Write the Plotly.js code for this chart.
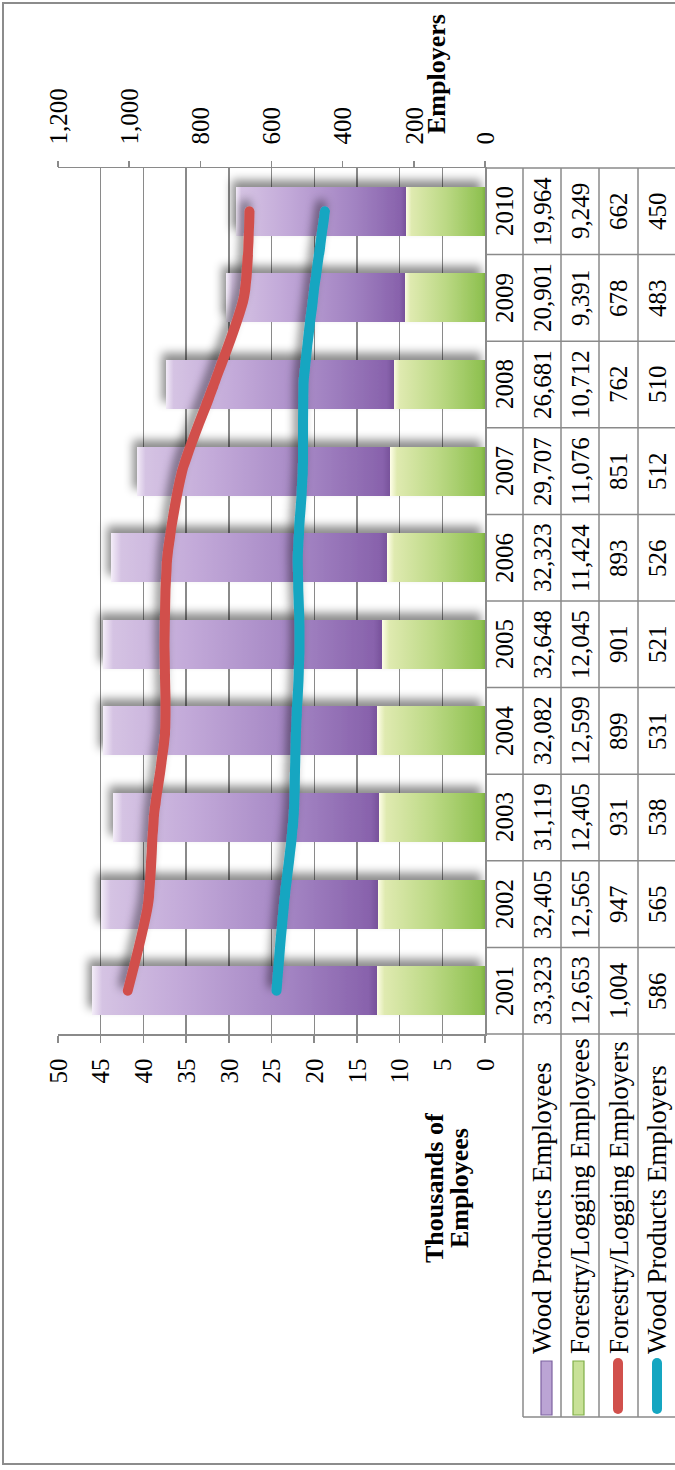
<!DOCTYPE html>
<html>
<head>
<meta charset="utf-8">
<script src="https://cdn.plot.ly/plotly-3.0.1.min.js"></script>
<style>
  html, body { margin: 0; padding: 0; background: #ffffff; overflow: hidden; }
  body { width: 675px; height: 1470px; position: relative; }
  #wrap {
    position: absolute; left: 0; top: 0;
    width: 1470px; height: 675px;
    transform-origin: 0 0;
    transform: translate(0px, 1470px) rotate(-90deg);
  }
</style>
</head>
<body>
<div id="wrap"><div id="chart"></div></div>
<script>
// ---------------- data ----------------
const years = ['2001', '2002', '2003', '2004', '2005', '2006', '2007', '2008', '2009', '2010'];
const woodProductsEmployees    = [33323, 32405, 31119, 32082, 32648, 32323, 29707, 26681, 20901, 19964];
const forestryLoggingEmployees = [12653, 12565, 12405, 12599, 12045, 11424, 11076, 10712, 9391, 9249];
const forestryLoggingEmployers = [1004, 947, 931, 899, 901, 893, 851, 762, 678, 662];
const woodProductsEmployers    = [586, 565, 538, 531, 521, 526, 512, 510, 483, 450];
const seriesNames = ['Wood Products Employees', 'Forestry/Logging Employees',
                     'Forestry/Logging Employers', 'Wood Products Employers'];
const leftAxisTitle = ['Thousands of', 'Employees'];
const rightAxisTitle = 'Employers';

// ---------------- geometry (unrotated frame 1470 x 675) ----------------
const W = 1470, H = 675;
const M = { l: 436, r: 168, t: 58, b: 190 };
const plotW = W - M.l - M.r;     // 866
const plotH = H - M.t - M.b;     // 427
const baseV = H - M.b;           // 485 : bottom of plot
const px = u => (u - 436) / plotW;
const py = v => (baseV - v) / plotH;

const FONT = 'Liberation Serif, Times New Roman, serif';
const GRID = '#8a8a8a';
const RED = '#d1504c', TEAL = '#15a6c1';

const toK = arr => arr.map(v => v / 1000);
const fmt = n => n.toLocaleString('en-US');

const traces = [
  { type: 'bar', x: years, y: toK(forestryLoggingEmployees), name: seriesNames[1],
    marker: { color: '#a9cf6e', line: { width: 0 } }, hoverinfo: 'skip' },
  { type: 'bar', x: years, y: toK(woodProductsEmployees), name: seriesNames[0],
    marker: { color: '#a98cc6', line: { width: 0 } }, hoverinfo: 'skip' },
  { type: 'scatter', mode: 'lines', x: years, y: forestryLoggingEmployers, yaxis: 'y2',
    name: seriesNames[2], line: { color: RED, width: 10, shape: 'spline', smoothing: 0.7 }, hoverinfo: 'skip' },
  { type: 'scatter', mode: 'lines', x: years, y: woodProductsEmployers, yaxis: 'y2',
    name: seriesNames[3], line: { color: TEAL, width: 10, shape: 'spline', smoothing: 0.7 }, hoverinfo: 'skip' }
];

// ---------------- table (data table under the plot) ----------------
const rowEdges = [485, 523, 561, 599, 638, 676];          // v positions of row edges
const rowCenter = i => (rowEdges[i] + rowEdges[i + 1]) / 2;
const tableRows = [woodProductsEmployees, forestryLoggingEmployees, forestryLoggingEmployers, woodProductsEmployers];
const NUMSIZE = 25;

const annotations = [];
years.forEach((yr, i) => {
  annotations.push({ x: i, xref: 'x', y: py(rowCenter(0)), yref: 'paper', text: yr,
    showarrow: false, font: { family: FONT, size: NUMSIZE, color: '#000' }, xanchor: 'center', yanchor: 'middle' });
  tableRows.forEach((row, r) => {
    annotations.push({ x: i, xref: 'x', y: py(rowCenter(r + 1)), yref: 'paper', text: fmt(row[i]),
      showarrow: false, font: { family: FONT, size: NUMSIZE, color: '#000' }, xanchor: 'center', yanchor: 'middle' });
  });
});
seriesNames.forEach((nm, r) => {
  annotations.push({ x: px(114), xref: 'paper', y: py(rowCenter(r + 1)), yref: 'paper', text: nm,
    showarrow: false, font: { family: FONT, size: 27, color: '#000' }, xanchor: 'left', yanchor: 'middle' });
});
// axis titles
annotations.push({ x: px(282), xref: 'paper', y: py(434), yref: 'paper', text: '<b>' + leftAxisTitle[0] + '</b>',
  showarrow: false, font: { family: FONT, size: 26, color: '#000' }, xanchor: 'center', yanchor: 'middle' });
annotations.push({ x: px(282), xref: 'paper', y: py(459), yref: 'paper', text: '<b>' + leftAxisTitle[1] + '</b>',
  showarrow: false, font: { family: FONT, size: 26, color: '#000' }, xanchor: 'center', yanchor: 'middle' });
annotations.push({ x: px(1396), xref: 'paper', y: py(436), yref: 'paper', text: '<b>' + rightAxisTitle + '</b>',
  showarrow: false, font: { family: FONT, size: 26, color: '#000' }, xanchor: 'center', yanchor: 'middle' });

const shapes = [];
const tline = (x0, y0, x1, y1, w, c) => shapes.push({ type: 'line', xref: 'paper', yref: 'paper',
  x0, y0, x1, y1, line: { color: c || GRID, width: w || 1.5 } });
// horizontal row separators
[523, 561, 599, 638].forEach(v => tline(px(53), py(v), 1, py(v)));
// column separators
for (let k = 0; k <= years.length; k++) tline(k / years.length, py(485), k / years.length, py(H + 5));
// legend column left border
tline(px(53), py(523), px(53), py(H + 5));
// outer frame
shapes.push({ type: 'rect', xref: 'paper', yref: 'paper', x0: px(6), x1: px(1467), y0: py(3), y1: py(H + 30),
  line: { color: '#8c8c8c', width: 2 }, fillcolor: 'rgba(0,0,0,0)' });
// legend keys
shapes.push({ type: 'rect', xref: 'paper', yref: 'paper', x0: px(55), x1: px(109), y0: py(552), y1: py(541),
  line: { color: '#7d62a0', width: 1.2 }, fillcolor: '#bba4d4' });
shapes.push({ type: 'rect', xref: 'paper', yref: 'paper', x0: px(55), x1: px(109), y0: py(584), y1: py(573),
  line: { color: '#7fae47', width: 1.2 }, fillcolor: '#c8e197' });
tline(px(61), py(618), px(107), py(618), 10, RED);
tline(px(61), py(657), px(107), py(657), 10, TEAL);

const layout = {
  width: W, height: H, autosize: false,
  margin: { l: M.l, r: M.r, t: M.t, b: M.b, autoexpand: false },
  paper_bgcolor: '#ffffff', plot_bgcolor: '#ffffff',
  font: { family: FONT, size: 25, color: '#000' },
  showlegend: false,
  barmode: 'stack', bargap: 0.434,
  xaxis: { type: 'category', range: [-0.5, years.length - 0.5], autorange: false,
           showline: true, linecolor: GRID, linewidth: 1.5, ticks: '',
           showticklabels: false, showgrid: false, zeroline: false, fixedrange: true },
  yaxis: { range: [0, 50], autorange: false, dtick: 5, tick0: 0, showgrid: true, gridcolor: GRID, gridwidth: 1.4,
           showline: true, linecolor: GRID, linewidth: 1.5, ticks: 'outside', ticklen: 7,
           tickcolor: GRID, tickwidth: 1.5, zeroline: false, ticklabelstandoff: 11,
           tickfont: { family: FONT, size: 25, color: '#000' } },
  yaxis2: { overlaying: 'y', side: 'right', range: [0, 1200], autorange: false, dtick: 200, tick0: 0, tickformat: ',',
            showgrid: false, showline: true, linecolor: GRID, linewidth: 1.5, ticks: 'outside', ticklen: 6,
            tickcolor: GRID, tickwidth: 1.5, zeroline: false, ticklabelstandoff: 11,
            tickfont: { family: FONT, size: 25, color: '#000' } },
  annotations, shapes
};

function enhance(gd) {
  try {
    const NS = 'http://www.w3.org/2000/svg';
    const svg = gd.querySelector('.main-svg');
    let defs = svg.querySelector('defs');
    if (!defs) { defs = document.createElementNS(NS, 'defs'); svg.insertBefore(defs, svg.firstChild); }
    const grad = (id, stops) => {
      const g = document.createElementNS(NS, 'linearGradient');
      g.setAttribute('id', id); g.setAttribute('x1', '0'); g.setAttribute('y1', '0');
      g.setAttribute('x2', '0'); g.setAttribute('y2', '1');
      stops.forEach(([o, c]) => { const s = document.createElementNS(NS, 'stop');
        s.setAttribute('offset', o); s.setAttribute('stop-color', c); g.appendChild(s); });
      defs.appendChild(g);
    };
    grad('gPurple', [[0, '#f3ecf8'], [0.035, '#d5c3e3'], [0.3, '#c3aad9'], [0.7, '#a283c2'], [0.97, '#8862ac'], [1, '#77529a']]);
    grad('gGreen', [[0, '#fdfde6'], [0.07, '#dfeab0'], [0.5, '#bcd985'], [0.96, '#8fc151'], [1, '#7db043']]);
    const f = document.createElementNS(NS, 'filter');
    f.setAttribute('id', 'soft'); f.setAttribute('x', '-10%'); f.setAttribute('y', '-10%');
    f.setAttribute('width', '120%'); f.setAttribute('height', '120%');
    const ds = document.createElementNS(NS, 'feDropShadow');
    ds.setAttribute('dx', '7'); ds.setAttribute('dy', '-4'); ds.setAttribute('stdDeviation', '5');
    ds.setAttribute('flood-color', '#000'); ds.setAttribute('flood-opacity', '0.45');
    f.appendChild(ds); defs.appendChild(f);

    const barTraces = gd.querySelectorAll('.barlayer .trace');
    const ids = ['gGreen', 'gPurple'];
    barTraces.forEach((t, i) => t.querySelectorAll('path').forEach(p => { p.style.fill = 'url(#' + ids[i] + ')'; }));
    const bl = gd.querySelector('.barlayer'); if (bl) bl.setAttribute('filter', 'url(#soft)');
    gd.querySelectorAll('.scatterlayer .js-line').forEach(p => {
      p.style.strokeLinecap = 'round'; p.style.strokeLinejoin = 'round'; });
    const sl = gd.querySelector('.scatterlayer'); if (sl) sl.setAttribute('filter', 'url(#soft)');
    gd.querySelectorAll('.shapelayer path').forEach(p => {
      const sw = parseFloat(p.style.strokeWidth || p.getAttribute('stroke-width') || '0');
      if (sw >= 9) p.style.strokeLinecap = 'round';
    });
  } catch (e) { console.log(e); }
}

Plotly.newPlot('chart', traces, layout, { staticPlot: true, displayModeBar: false })
  .then(gd => enhance(gd));
</script>
</body>
</html>
